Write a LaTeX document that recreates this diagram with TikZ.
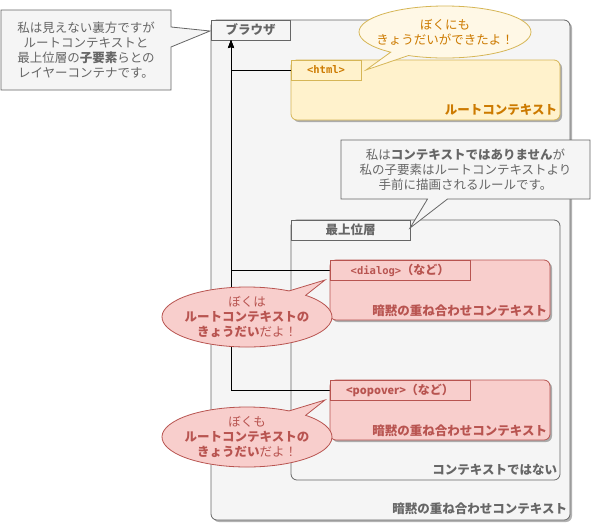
\documentclass[tikz,border=0pt]{standalone}
\usepackage{fontspec}
\setmainfont{Noto Sans CJK JP}
\newfontfamily\monof{DejaVu Sans Mono}
\usetikzlibrary{shapes.geometric,shapes.callouts,shadows,arrows.meta}
\definecolor{gfill}{HTML}{F5F5F5}
\definecolor{gline}{HTML}{666666}
\definecolor{gtext}{HTML}{666666}
\definecolor{yfill}{HTML}{FFF2CC}
\definecolor{ybub}{HTML}{FFF8E6}
\definecolor{yline}{HTML}{D6B656}
\definecolor{ytext}{HTML}{CC7A00}
\definecolor{rfill}{HTML}{F8CECC}
\definecolor{rline}{HTML}{B85450}
\definecolor{rtext}{HTML}{B85450}
\begin{document}
\begin{tikzpicture}[x=1pt,y=-1pt,
  font=\fontsize{12.5}{14.8}\selectfont,
  plain/.style={inner sep=0pt,outer sep=0pt},
  shad/.style={drop shadow={shadow xshift=2pt,shadow yshift=-2pt,opacity=0.3,fill=black}},
  gbox/.style={plain,draw=gline,fill=gfill,rounded corners=6pt,line width=0.8pt},
  ybox/.style={plain,draw=yline,fill=yfill,rounded corners=6pt,line width=0.8pt},
  rbox/.style={plain,draw=rline,fill=rfill,rounded corners=6pt,line width=0.8pt},
  gtab/.style={plain,draw=gline,fill=gfill,line width=0.8pt,minimum height=20pt,text=gtext,font=\fontsize{12.5}{14}\selectfont\bfseries},
  ytab/.style={plain,draw=yline,fill=yfill,line width=0.8pt,minimum height=20pt,text=ytext},
  rtab/.style={plain,draw=rline,fill=rfill,line width=0.8pt,minimum height=20pt,text=rtext},
  lbl/.style={plain,anchor=east,font=\fontsize{12.5}{14}\selectfont\bfseries},
  gcall/.style={rectangle callout,plain,draw=gline,fill=gfill,line width=0.8pt,text=gtext,align=center,callout pointer width=20pt},
  ybubble/.style={ellipse callout,plain,draw=yline,fill=ybub,line width=0.8pt,callout pointer arc=14},
  rbubble/.style={ellipse callout,plain,draw=rline,fill=rfill,line width=0.8pt,callout pointer arc=14},
  conn/.style={draw=black,line width=0.9pt,-{Stealth[length=8pt,width=6pt,inset=1pt]}}
]
\useasboundingbox[fill=white] (0,0) rectangle (591,528);

% browser container
\node[gbox,shad,minimum width=359pt,minimum height=500pt] (browser) at (390.5,270) {};
\node[gtab,minimum width=79pt] (btab) at (250.5,30) {ブラウザ};
\node[lbl,text=gtext] (blbl) at (567,509) {暗黙の重ね合わせコンテキスト};

% root context (html)
\node[ybox,shad,minimum width=269pt,minimum height=60pt] (html) at (425.5,90) {};
\node[ytab,minimum width=70pt] (htmltab) at (326,70) {\monof\fontsize{10.5}{12}\selectfont\bfseries <html>};
\node[lbl,text=ytext] (hlbl) at (557,110) {ルートコンテキスト};

% top layer
\node[gbox,minimum width=269pt,minimum height=260pt] (top) at (425.5,350) {};
\node[gtab,minimum width=119pt] (ttab) at (350.5,230) {最上位層};
\node[lbl,text=gtext] (tlbl) at (557,470) {コンテキストではない};

% connectors
\coordinate (ax) at (231,0);
\draw[conn] (htmltab.west) -| (btab.south -| ax);
\draw[conn] (330,270) -| (btab.south -| ax);
\draw[conn] (330,390) -| (btab.south -| ax);

% dialog
\node[rbox,shad,minimum width=220pt,minimum height=60pt] (dialog) at (440,290) {};
\node[rtab,minimum width=140pt] (dtab) at (400,270) {\bfseries{\monof\fontsize{10.5}{12}\selectfont <dialog>}\fontsize{12}{12}\selectfont（など）};
\node[lbl,text=rtext] (dlbl) at (547,311) {暗黙の重ね合わせコンテキスト};

% popover
\node[rbox,shad,minimum width=220pt,minimum height=60pt] (popover) at (440,410) {};
\node[rtab,minimum width=140pt] (ptab) at (400,390) {\bfseries\fontsize{11}{12}\selectfont <popover>\fontsize{12}{12}\selectfont（など）};
\node[lbl,text=rtext] (plbl) at (547,431) {暗黙の重ね合わせコンテキスト};

% callouts
\node[gcall,minimum width=170pt,minimum height=80pt,callout absolute pointer={(210,31)}] (lcall) at (86,50)
  {私は見えない裏方ですが\\ルートコンテキストと\\最上位層の\textbf{子要素}らとの\\レイヤーコンテナです。};
\node[gcall,minimum width=249pt,minimum height=59pt,callout absolute pointer={(410,228)}] (mcall) at (465.5,169.5)
  {私は\textbf{コンテキストではありません}が\\私の子要素はルートコンテキストより\\手前に描画されるルールです。};

\node[ybubble,minimum width=172pt,minimum height=52pt,callout absolute pointer={(366,70)}] (hbub) at (445,32) {};
\node[plain,text=ytext,align=center] (hbubt) at (hbub.center) {ぼくにも\\きょうだいができたよ！};

\node[rbubble,minimum width=170pt,minimum height=60pt,callout absolute pointer={(325,280)}] (dbub) at (247,317) {};
\node[plain,text=rtext,align=center] (dbubt) at (dbub.center) {ぼくは\\\textbf{ルートコンテキストの}\\\textbf{きょうだい}だよ！};

\node[rbubble,minimum width=170pt,minimum height=60pt,callout absolute pointer={(325,400)}] (pbub) at (247,437) {};
\node[plain,text=rtext,align=center] (pbubt) at (pbub.center) {ぼくも\\\textbf{ルートコンテキストの}\\\textbf{きょうだい}だよ！};
\end{tikzpicture}
\end{document}
